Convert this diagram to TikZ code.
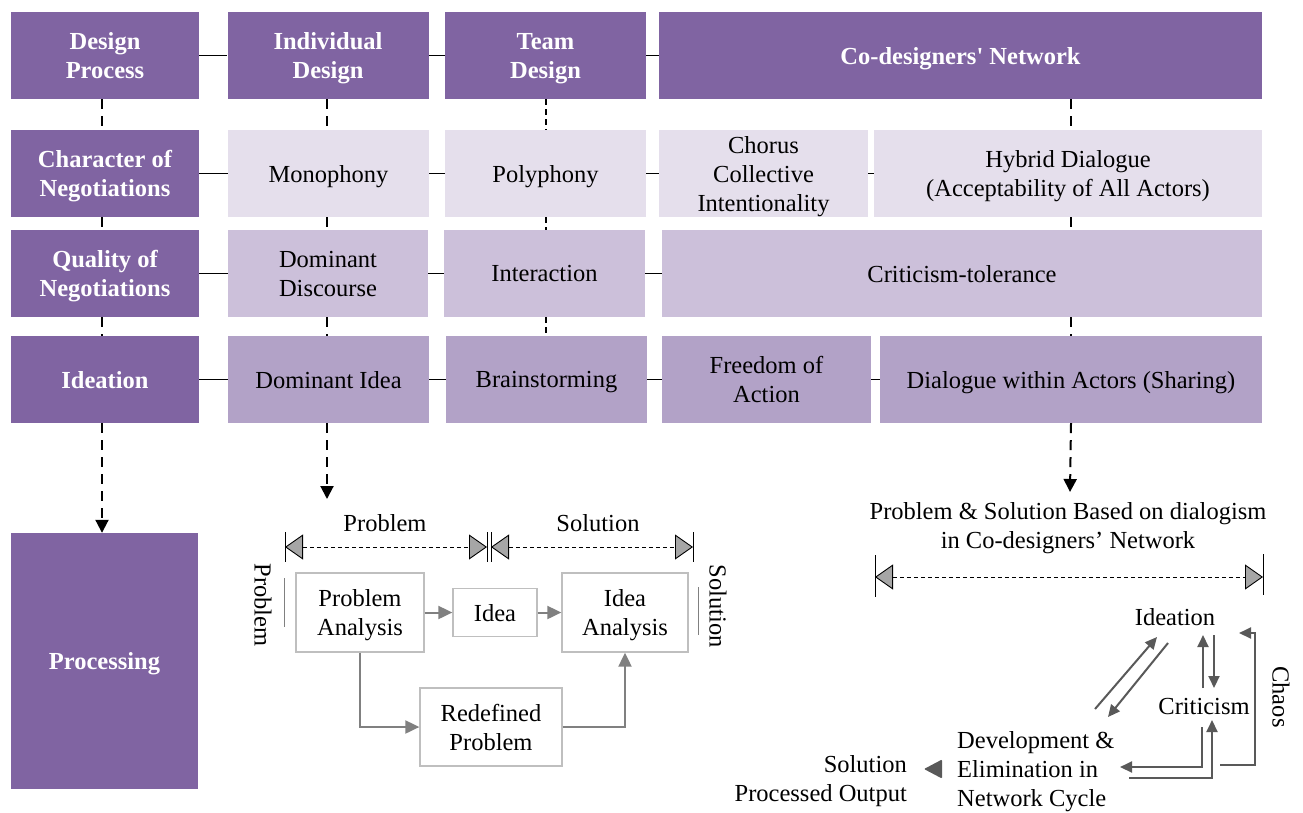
\documentclass[tikz,border=0pt]{standalone}
\usepackage{fontspec}
\newfontfamily\tnr{Liberation Serif}
\usetikzlibrary{arrows.meta,calc}
\definecolor{dpurple}{HTML}{8064A2}
\definecolor{lpa}{HTML}{E5DFEC}
\definecolor{lpb}{HTML}{CCC0DA}
\definecolor{lpc}{HTML}{B2A2C7}
\definecolor{gba}{HTML}{BFBFBF}
\definecolor{gbb}{HTML}{808080}
\definecolor{gbc}{HTML}{595959}
\definecolor{gbd}{HTML}{A6A6A6}
\begin{document}
\begin{tikzpicture}[x=1pt,y=-1pt,
  txt/.style={font=\tnr\fontsize{24.5}{29}\selectfont, align=center, inner sep=0pt, text depth=0pt},
  cellbox/.style={txt, minimum height=87pt},
  hdr/.style={cellbox, fill=dpurple, text=white, font=\tnr\bfseries\fontsize{24.5}{29}\selectfont},
  rowb/.style={cellbox, fill=lpa},
  rowc/.style={cellbox, fill=lpb},
  rowd/.style={cellbox, fill=lpc},
  hline/.style={line width=1.5pt, black},
  vdash/.style={line width=2pt, black, dash pattern=on 10pt off 7pt},
  vdashthin/.style={line width=1.2pt, black, dash pattern=on 6pt off 4pt},
  downarr/.style={vdash, -{Triangle[width=13pt,length=13pt]}},
  dimarr/.style={line width=0.9pt, black, dash pattern=on 4pt off 3pt,
     {Triangle[width=25pt,length=18pt,fill=gbd]}-{Triangle[width=25pt,length=18pt,fill=gbd]}},
  tick/.style={line width=0.9pt, black},
  fbox/.style={txt, draw=gba, line width=1.3pt, fill=white},
  farr/.style={gbb, line width=2pt, -{Triangle[width=13pt,length=14pt]}},
  carr/.style={gbc, line width=2pt, -{Triangle[width=11pt,length=12pt]}},
]
\useasboundingbox (0,0) rectangle (1303,812);

% ---- row 1
\node[hdr, minimum width=188pt] (dp)  at (105,55.5)   {Design\\Process};
\node[hdr, minimum width=201pt] (idd) at (328,55.5)   {Individual\\Design};
\node[hdr, minimum width=201pt] (td)  at (545.5,55.5) {Team\\Design};
\node[hdr, minimum width=603pt] (cd)  at (960.5,55.5) {Co-designers' Network};
% ---- row 2
\node[hdr,  minimum width=188pt] (cn)   at (105,173.5)   {Character of\\Negotiations};
\node[rowb, minimum width=201pt] (mono) at (328.5,173.5) {Monophony};
\node[rowb, minimum width=201pt] (poly) at (545.5,173.5) {Polyphony};
\node[rowb, minimum width=209pt] (cho)  at (763.5,173.5) {Chorus\\Collective\\Intentionality};
\node[rowb, minimum width=388pt] (hyb)  at (1068,173.5)  {Hybrid Dialogue\\(Acceptability of All Actors)};
% ---- row 3
\node[hdr,  minimum width=188pt] (qn)  at (105,273.5)   {Quality of\\Negotiations};
\node[rowc, minimum width=200pt] (dd)  at (328,273.5)   {Dominant\\Discourse};
\node[rowc, minimum width=201pt] (int) at (544.5,273.5) {Interaction};
\node[rowc, minimum width=600pt] (ct)  at (962,273.5)   {Criticism-tolerance};
% ---- row 4
\node[hdr,  minimum width=188pt] (ide) at (105,379.5)   {Ideation};
\node[rowd, minimum width=201pt] (di)  at (328.5,379.5) {Dominant Idea};
\node[rowd, minimum width=201pt] (bs)  at (546.5,379.5) {Brainstorming};
\node[rowd, minimum width=209pt] (fa)  at (766.5,379.5) {Freedom of\\Action};
\node[rowd, minimum width=382pt] (dwa) at (1071,379.5)  {Dialogue within Actors (Sharing)};
% ---- processing
\node[hdr, minimum width=187pt, minimum height=256pt] (pr) at (104.5,661) {Processing};

% ---- horizontal connectors
\draw[hline] (dp.east) -- (idd.west);
\draw[hline] (idd.east) -- (td.west);
\draw[hline] (td.east) -- (cd.west);
\draw[hline] (cn.east) -- (mono.west);
\draw[hline] (mono.east) -- (poly.west);
\draw[hline] (poly.east) -- (cho.west);
\draw[hline] (cho.east) -- (hyb.west);
\draw[hline] (qn.east) -- (dd.west);
\draw[hline] (dd.east) -- (int.west);
\draw[hline] (int.east) -- (ct.west);
\draw[hline] (ide.east) -- (di.west);
\draw[hline] (di.east) -- (bs.west);
\draw[hline] (bs.east) -- (fa.west);
\draw[hline] (fa.east) -- (dwa.west);

% ---- vertical dashed connectors
\coordinate (ka) at (102,0);
\coordinate (kb) at (327,0);
\coordinate (kc) at (546,0);
\coordinate (kd) at (1071,0);
\draw[vdash] (dp.south -| ka) -- (cn.north -| ka);
\draw[vdash] (cn.south -| ka) -- (qn.north -| ka);
\draw[vdash] (qn.south -| ka) -- (ide.north -| ka);
\draw[downarr] (ide.south -| ka) -- (pr.north -| ka);
\draw[vdash] (idd.south -| kb) -- (mono.north -| kb);
\draw[vdash] (mono.south -| kb) -- (dd.north -| kb);
\draw[vdash] (dd.south -| kb) -- (di.north -| kb);
\coordinate (fctop) at (327,499);
\draw[downarr] (di.south -| kb) -- (fctop);
\draw[vdashthin] (td.south -| kc) -- (poly.north -| kc);
\draw[vdashthin] (poly.south -| kc) -- (int.north -| kc);
\draw[vdashthin] (int.south -| kc) -- (bs.north -| kc);
\draw[vdash] (cd.south -| kd) -- (hyb.north -| kd);
\draw[vdash] (hyb.south -| kd) -- (ct.north -| kd);
\draw[vdash] (ct.south -| kd) -- (dwa.north -| kd);
\coordinate (pstop) at (1070,492);
\draw[downarr] (dwa.south -| kd) -- (pstop);

% ---- left flowchart
\node[txt] (lprob) at (385,523) {Problem};
\node[txt] (lsol)  at (598,523) {Solution};
\coordinate (da) at (285,547);
\coordinate (db) at (487,547);
\coordinate (dc) at (491,547);
\coordinate (dd2) at (693,547);
\draw[dimarr] (da) -- (db);
\draw[dimarr] (dc) -- (dd2);
\foreach \p in {da,db,dc,dd2} \draw[tick] ($(\p)+(0,-15)$) -- ($(\p)+(0,15)$);

\node[fbox, minimum width=128pt, minimum height=79pt] (pa)   at (360,612.5) {Problem\\Analysis};
\node[fbox, minimum width=84pt,  minimum height=48pt] (idea) at (495,612.5) {Idea};
\node[fbox, minimum width=126pt, minimum height=79pt] (ia)   at (625,612.5) {Idea\\Analysis};
\node[fbox, minimum width=142pt, minimum height=78pt] (rp)   at (491,727)   {Redefined\\Problem};
\draw[farr] (pa.east) -- (idea.west);
\draw[farr] (idea.east) -- (ia.west);
\draw[farr] (pa.south) |- (rp.west);
\draw[farr] (rp.east) -| (ia.south);

\node[txt, rotate=-90] (sprob) at (263,605) {Problem};
\node[txt, rotate=-90] (ssol)  at (718,606) {Solution};
\draw[gbb, line width=1pt] (284,578) -- (284,627);
\draw[gbb, line width=1pt] (698,587) -- (698,635);

% ---- right cycle
\node[txt] (psn) at (1068,525) {Problem \& Solution Based on dialogism\\in Co-designers’ Network};
\coordinate (de) at (875,577);
\coordinate (df) at (1263,577);
\draw[dimarr] (de) -- (df);
\draw[tick] ($(de)+(0,-22)$) -- ($(de)+(0,20)$);
\draw[tick] ($(df)+(0,-23)$) -- ($(df)+(0,18)$);

\node[txt] (cide) at (1175,617) {Ideation};
\node[txt] (ccri) at (1204,706) {Criticism};
\node[txt, rotate=-90] (cchaos) at (1281,697) {Chaos};
\node[txt, align=left, anchor=west] (cdev) at (957,769) {Development \&\\Elimination in\\Network Cycle};
\node[txt, align=right, anchor=east] (csol) at (907,778) {Solution\\Processed Output};
\fill[gbc, rounded corners=1pt] (924,769) -- (942,759.5) -- (942,778.5) -- cycle;

\coordinate (ua) at (1095,709); \coordinate (ub) at (1157,637);
\coordinate (uc) at (1168,643); \coordinate (ud) at (1108,717);
\draw[carr] (ua) -- (ub);
\draw[carr] (uc) -- (ud);
\draw[carr] (1203,688) -- (1203,635);
\draw[carr] (1214,635) -- (1214,688);
\draw[carr] (1202,727) |- (1120,767);
\draw[carr] (1129,778) -| (1212,720);
\draw[carr] (1220,765) -- (1255,765) -- (1255,633) -- (1239,633);
\end{tikzpicture}
\end{document}
